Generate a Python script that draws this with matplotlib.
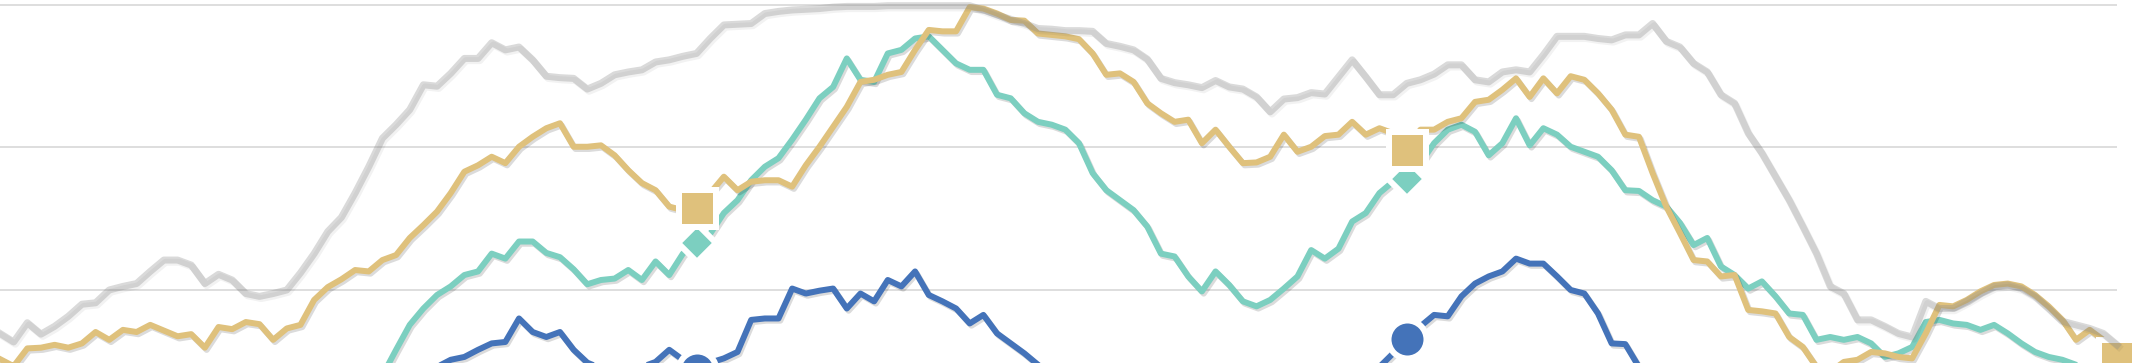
import matplotlib
matplotlib.use("Agg")
import matplotlib.pyplot as plt
import matplotlib.patheffects as pe
import numpy as np

# weekly index over three years, marker at each year's last week
weeks = np.arange(156)
year_ends = [51, 103, 155]

gray = [13.9, 12.7, 15.4, 13.8, 14.9, 16.3, 18.0, 18.2, 20.0, 20.5,
        20.9, 22.6, 24.2, 24.2, 23.5, 20.9, 22.2, 21.4, 19.5, 19.1,
        19.5, 20.0, 22.4, 25.1, 28.2, 30.2, 33.6, 37.3, 41.3, 43.2,
        45.3, 48.8, 48.6, 50.4, 52.5, 52.5, 54.7, 53.7, 54.1, 52.3,
        50.0, 49.8, 49.7, 48.2, 49.0, 50.2, 50.6, 50.9, 52.0, 52.3,
        52.8, 53.2, 55.3, 57.2, 57.3, 57.4, 58.8, 59.1, 59.3, 59.4,
        59.5, 59.7, 59.8, 59.8, 59.8, 59.9, 59.9, 59.9, 59.9, 59.9,
        59.9, 59.9, 59.3, 58.6, 58.0, 57.4, 56.7, 56.6, 56.4, 56.4,
        56.3, 54.6, 54.2, 53.7, 52.4, 49.7, 49.1, 48.8, 48.4, 49.4,
        48.5, 48.2, 47.1, 45.0, 46.8, 47.0, 47.7, 47.5, 49.9, 52.3,
        49.9, 47.4, 47.4, 49.0, 49.5, 50.3, 51.6, 51.6, 49.5, 49.2,
        50.6, 50.9, 50.6, 53.0, 55.6, 55.6, 55.6, 55.3, 55.1, 55.8,
        55.8, 57.4, 54.9, 54.1, 51.8, 50.6, 47.4, 46.2, 42.0, 39.2,
        35.9, 32.6, 28.9, 25.1, 20.5, 19.5, 15.8, 15.8, 14.9, 13.9,
        13.4, 18.4, 17.4, 17.4, 18.4, 19.5, 20.5, 20.7, 20.2, 19.1,
        17.4, 15.6, 15.1, 14.6, 13.9, 12.3]

gold = [10.3, 9.3, 11.8, 11.9, 12.3, 11.9, 12.5, 14.1, 13.0, 14.4,
        14.1, 15.1, 14.3, 13.5, 13.8, 11.9, 14.8, 14.5, 15.5, 15.2,
        13.0, 14.6, 15.1, 18.6, 20.4, 21.5, 22.8, 22.6, 24.2, 24.9,
        27.3, 29.1, 31.0, 33.6, 36.6, 37.5, 38.7, 37.8, 40.1, 41.5,
        42.7, 43.4, 40.1, 40.1, 40.3, 38.9, 36.8, 35.0, 34.0, 31.7,
        31.2, 31.5, 33.6, 35.9, 34.0, 35.2, 35.4, 35.4, 34.5, 37.5,
        40.1, 42.9, 45.7, 49.2, 49.5, 50.2, 50.6, 53.7, 56.5, 56.3,
        56.3, 59.7, 59.5, 58.8, 57.9, 57.8, 56.0, 55.8, 55.6, 55.2,
        53.2, 50.2, 50.4, 49.2, 46.2, 44.8, 43.6, 43.9, 40.6, 42.5,
        40.1, 37.8, 37.9, 38.7, 41.8, 39.4, 40.1, 41.6, 41.8, 43.6,
        41.8, 42.7, 42.0, 39.6, 42.5, 42.5, 43.6, 44.1, 46.4, 46.7,
        48.1, 49.7, 47.1, 49.7, 47.6, 50.0, 49.5, 47.6, 45.3, 41.8,
        41.5, 36.4, 31.7, 28.0, 24.2, 24.0, 21.9, 22.1, 17.2, 17.0,
        16.7, 13.4, 12.0, 9.2, 8.5, 9.9, 10.2, 11.3, 11.1, 10.6,
        10.4, 13.9, 17.9, 17.7, 18.6, 19.8, 20.7, 20.9, 20.5, 19.3,
        17.7, 15.8, 13.0, 14.4, 13.0, 10.5]

teal = [3.1, 2.8, 3.4, 3.0, 3.6, 3.9, 3.5, 4.2, 4.0, 4.6,
        4.3, 4.9, 5.2, 4.8, 4.5, 3.9, 4.4, 4.1, 3.6, 3.3,
        3.5, 3.2, 3.8, 4.0, 4.4, 4.2, 4.6, 5.6, 8.0, 11.6,
        15.1, 17.4, 19.3, 20.5, 22.1, 22.6, 25.1, 24.4, 26.8, 26.8,
        25.2, 24.6, 22.9, 20.8, 21.4, 21.6, 22.8, 21.4, 24.0, 22.1,
        25.1, 26.6, 27.9, 30.8, 32.6, 35.4, 37.3, 38.5, 41.1, 43.9,
        46.9, 48.5, 52.5, 49.5, 49.2, 53.2, 53.7, 55.3, 55.6, 53.7,
        51.8, 50.9, 50.9, 47.4, 46.9, 44.8, 43.6, 43.2, 42.5, 40.6,
        36.4, 34.0, 32.6, 31.2, 28.9, 25.1, 24.7, 21.9, 19.8, 22.6,
        20.7, 18.4, 17.7, 18.6, 20.2, 21.9, 25.6, 24.4, 25.8, 29.6,
        30.8, 33.6, 35.2, 35.6, 37.8, 40.6, 42.5, 43.2, 42.2, 38.9,
        40.6, 44.1, 40.3, 42.7, 41.8, 40.1, 39.4, 38.7, 36.8, 34.0,
        33.9, 32.6, 31.7, 29.4, 26.3, 27.3, 23.3, 22.1, 20.2, 21.2,
        19.1, 16.7, 16.5, 13.0, 13.4, 13.0, 13.4, 12.5, 10.6, 11.1,
        12.0, 15.5, 15.8, 15.3, 15.1, 14.4, 15.1, 13.9, 12.5, 11.3,
        10.6, 10.2, 9.5, 8.5, 7.6, 6.2]

blue = [4.2, 3.8, 4.5, 4.0, 3.6, 4.1, 4.7, 4.3, 3.9, 4.4,
        5.0, 4.6, 4.1, 3.7, 3.3, 3.8, 3.5, 3.1, 3.6, 4.0,
        3.7, 4.2, 4.8, 5.1, 4.7, 5.3, 5.8, 6.2, 5.9, 6.6,
        7.1, 8.0, 9.2, 10.2, 10.6, 11.6, 12.5, 12.7, 16.0, 14.1,
        13.4, 14.1, 11.6, 9.8, 9.0, 8.5, 8.7, 9.2, 9.9, 11.6,
        10.2, 8.8, 9.8, 10.4, 11.3, 15.8, 16.0, 16.0, 20.2, 19.5,
        19.9, 20.2, 17.4, 19.5, 18.4, 21.4, 20.5, 22.6, 19.3, 18.4,
        17.4, 15.3, 16.5, 13.9, 12.5, 11.1, 9.5, 8.3, 7.1, 6.2,
        5.6, 5.0, 4.7, 4.3, 4.0, 3.6, 3.9, 3.4, 3.1, 3.5,
        3.2, 3.0, 3.4, 3.8, 3.5, 4.1, 4.6, 5.2, 5.9, 6.8,
        7.8, 9.2, 11.1, 13.1, 14.9, 16.5, 16.3, 19.1, 20.9, 21.9,
        22.6, 24.4, 23.7, 23.7, 21.9, 20.0, 19.5, 16.7, 12.5, 12.4,
        9.2, 6.9, 5.8, 4.9, 4.2, 3.6, 3.1, 2.7, 2.4, 2.6,
        2.2, 2.0, 2.3, 2.1, 1.9, 2.2, 2.5, 2.3, 2.8, 3.1,
        2.9, 3.3, 3.6, 3.4, 3.9, 4.2, 4.0, 3.7, 3.5, 3.2,
        3.0, 2.8, 3.1, 2.9, 2.6, 2.4]

GRAY = "#8c8c8c"
GOLD = "#dfc17c"
TEAL = "#7ccfc0"
BLUE = "#4473b9"

W, H, DPI = 2132, 363, 100
PX = 72 / DPI  # points per pixel

fig = plt.figure(figsize=(W / DPI, H / DPI), dpi=DPI)
ax = fig.add_axes([0, 0, 2117 / W, 1])
ax.set_xlim(0, 155)
ax.set_ylim(9.75, 60.7)
ax.set_yticks([20, 40, 60])
ax.set_xticks([])
ax.grid(axis="y", color="#dedede", linewidth=1.4, zorder=0)
ax.tick_params(length=0, labelleft=False, labelbottom=False)
for s in ax.spines.values():
    s.set_visible(False)

shadow = [pe.SimpleLineShadow(offset=(1.3, -1.6), shadow_color="black", alpha=0.14),
          pe.Normal()]

for vals, col, z in [(blue, BLUE, 3), (teal, TEAL, 3.1), (gold, GOLD, 3.2)]:
    ax.plot(weeks, vals, color=col, lw=6 * PX, zorder=z, clip_on=False,
            solid_joinstyle="round", path_effects=shadow)

# year-end markers with white halo
idx = np.array(year_ends)
ax.plot(weeks[idx], np.array(blue)[idx], "o", ms=38 * PX, mfc=BLUE, mec="white",
        mew=6 * PX, zorder=5, clip_on=False)
ax.plot(weeks[idx], np.array(teal)[idx], "D", ms=27 * PX, mfc=TEAL, mec="white",
        mew=6 * PX, zorder=6, clip_on=False)
ax.plot(weeks[idx], np.array(gold)[idx], "s", ms=37 * PX, mfc=GOLD, mec="white",
        mew=6 * PX, zorder=7, clip_on=False)

# translucent grey series sits over everything
ax.plot(weeks, gray, color=GRAY, alpha=0.32, lw=7 * PX, zorder=8, clip_on=False,
        solid_joinstyle="round",
        path_effects=[pe.SimpleLineShadow(offset=(1.3, -1.6), shadow_color="black", alpha=0.05),
                      pe.Normal()])

fig.savefig("out.png", dpi=DPI, facecolor="white")
